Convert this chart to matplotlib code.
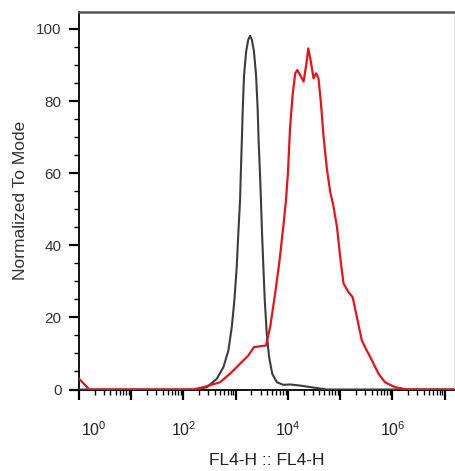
import math
import matplotlib.pyplot as plt
from matplotlib.ticker import FixedLocator, LogLocator, MultipleLocator, FuncFormatter
from matplotlib.transforms import ScaledTranslation

plt.rcParams['font.family'] = ['Liberation Sans', 'DejaVu Sans']
plt.rcParams['mathtext.fontset'] = 'custom'
plt.rcParams['mathtext.rm'] = 'Liberation Sans'
plt.rcParams['mathtext.it'] = 'Liberation Sans'

# Isotype control (grey): log10(FL4-H) vs % of mode
gris_log = [0.0, 1.0, 2.0, 2.25, 2.45, 2.64, 2.765, 2.86, 2.925, 2.975, 3.02, 3.05,
            3.084, 3.097, 3.117, 3.136, 3.16, 3.20, 3.24, 3.276, 3.31, 3.35, 3.39,
            3.42, 3.44, 3.467, 3.487, 3.505, 3.53, 3.557, 3.595, 3.64, 3.70, 3.79,
            3.91, 4.04, 4.23, 4.55, 4.74, 5.5, 7.2]
gris_val = [0.0, 0.0, 0.0, 0.0, 0.65, 3.0, 6.2, 10.8, 17.3, 24.7, 34.0, 43.2,
            52.5, 59.4, 68.7, 78.0, 87.2, 93.7, 97.0, 98.1, 97.0, 93.7, 87.2,
            78.0, 68.7, 59.4, 51.1, 43.2, 34.0, 24.7, 15.5, 9.0, 4.35, 2.0,
            1.3, 1.4, 1.1, 0.4, 0.0, 0.0, 0.0]

# Stained sample (red)
rojo_log = [0.0, 0.08, 0.2, 1.0, 2.0, 2.19, 2.38, 2.70, 2.89, 3.08, 3.24, 3.35, 3.47,
            3.58, 3.66, 3.755, 3.84, 3.91, 3.96, 4.0, 4.04, 4.09, 4.14, 4.18, 4.25,
            4.30, 4.35, 4.39, 4.44, 4.49, 4.54, 4.585, 4.63, 4.68, 4.745, 4.81,
            4.87, 4.94, 5.0, 5.065, 5.16, 5.24, 5.32, 5.415, 5.51, 5.61, 5.735,
            5.86, 6.05, 6.28, 7.2]
rojo_val = [3.0, 1.8, 0.0, 0.0, 0.0, 0.0, 0.65, 2.0, 4.35, 7.1, 9.4, 11.75, 12.0,
            12.2, 17.3, 26.6, 35.8, 45.0, 52.0, 60.0, 72.4, 81.7, 87.7, 88.6, 86.8,
            85.4, 90.0, 94.6, 90.9, 86.3, 87.7, 86.3, 79.8, 70.6, 61.3, 54.8,
            51.0, 45.0, 36.8, 29.4, 27.0, 25.6, 20.1, 13.6, 10.8, 8.05, 4.35,
            2.0, 0.65, 0.0, 0.0]

etiquetas = {0: '$10^{0}$', 2: '$10^{2}$', 4: '$10^{4}$', 6: '$10^{6}$'}

fig = plt.figure(figsize=(4.56, 4.71), dpi=100)
ax = fig.add_axes([79 / 456, 1 - 389.5 / 471, 375 / 456, 377.5 / 471])

ax.plot([10 ** v for v in gris_log], gris_val, color='#3c3c3c', lw=1.5, zorder=3)
ax.plot([10 ** v for v in rojo_log], rojo_val, color='#e3151b', lw=1.6, zorder=4)

ax.set_xscale('log')
ax.set_xlim(1, 10 ** 7.18)
ax.set_ylim(0, 104.7)

ax.xaxis.set_major_locator(FixedLocator([10 ** k for k in range(8)]))
ax.xaxis.set_minor_locator(LogLocator(base=10, subs=range(2, 10), numticks=20))
ax.xaxis.set_major_formatter(FuncFormatter(
    lambda x, pos: etiquetas.get(int(round(math.log10(x))), '')))
ax.yaxis.set_major_locator(MultipleLocator(20))
ax.yaxis.set_minor_locator(MultipleLocator(5))

ax.tick_params(which='major', direction='out', length=7.5, width=1.6, colors='black')
ax.tick_params(which='minor', direction='out', length=3.5, width=1.0)
ax.tick_params(axis='x', which='major', pad=15, labelsize=11.5, labelcolor='#222222')
ax.tick_params(axis='y', labelsize=11, pad=5, labelcolor='#333333')

for s in ['left', 'bottom']:
    ax.spines[s].set_linewidth(1.3)
    ax.spines[s].set_color('black')
ax.spines['top'].set_color('#555555')
ax.spines['top'].set_linewidth(1.8)
ax.spines['right'].set_color('#e4e4e4')
ax.spines['right'].set_linewidth(0.8)

ax.set_xlabel('FL4-H :: FL4-H', fontsize=12.5, color='#222222', labelpad=10)
ax.set_ylabel('Normalized To Mode', fontsize=12.5, color='#333333', labelpad=6)

# FlowJo pushes the first decade label to the right
fig.canvas.draw()
for lab in ax.get_xticklabels():
    if lab.get_text() == '$10^{0}$':
        lab.set_transform(lab.get_transform() + ScaledTranslation(0.15, 0, fig.dpi_scale_trans))

fig.savefig('out.png', dpi=100)
